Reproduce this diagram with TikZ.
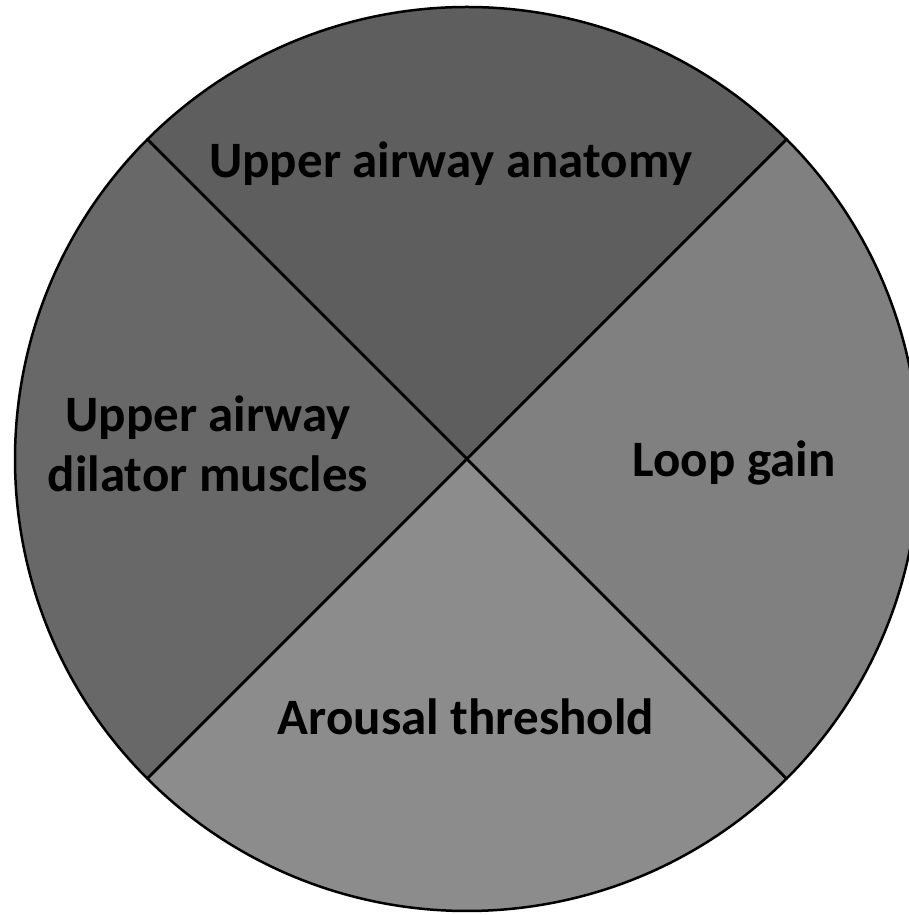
\documentclass[tikz,border=0pt]{standalone}
\usepackage{fontspec}
\setmainfont{Carlito}
\tikzset{
  quarter/.style={draw=black,line width=2.5pt,line join=round},
  label/.style={font=\fontsize{51}{60}\selectfont\bfseries,anchor=base,align=center,inner sep=0pt}
}
\begin{document}
\begin{tikzpicture}[x=1pt,y=1pt]
  \useasboundingbox (0,0) rectangle (909,915);
  \clip (0,0) rectangle (909,915);
  \coordinate (c) at (467,456);
  % sectors
  \filldraw[quarter,fill={rgb,255:red,94;green,94;blue,94}] (c) -- ++(45:452) arc[start angle=45,end angle=135,radius=452] -- cycle;
  \filldraw[quarter,fill={rgb,255:red,104;green,104;blue,104}] (c) -- ++(135:452) arc[start angle=135,end angle=225,radius=452] -- cycle;
  \filldraw[quarter,fill={rgb,255:red,140;green,140;blue,140}] (c) -- ++(225:452) arc[start angle=225,end angle=315,radius=452] -- cycle;
  \filldraw[quarter,fill={rgb,255:red,128;green,128;blue,128}] (c) -- ++(315:452) arc[start angle=315,end angle=405,radius=452] -- cycle;
  % labels
  \node[label] (anatomy) at (451,737) {Upper airway anatomy};
  \node[label] (dilator) at (208,423) {Upper airway\\dilator muscles};
  \node[label] (loop) at (734,438) {Loop gain};
  \node[label] (arousal) at (466,180) {Arousal threshold};
\end{tikzpicture}
\end{document}
